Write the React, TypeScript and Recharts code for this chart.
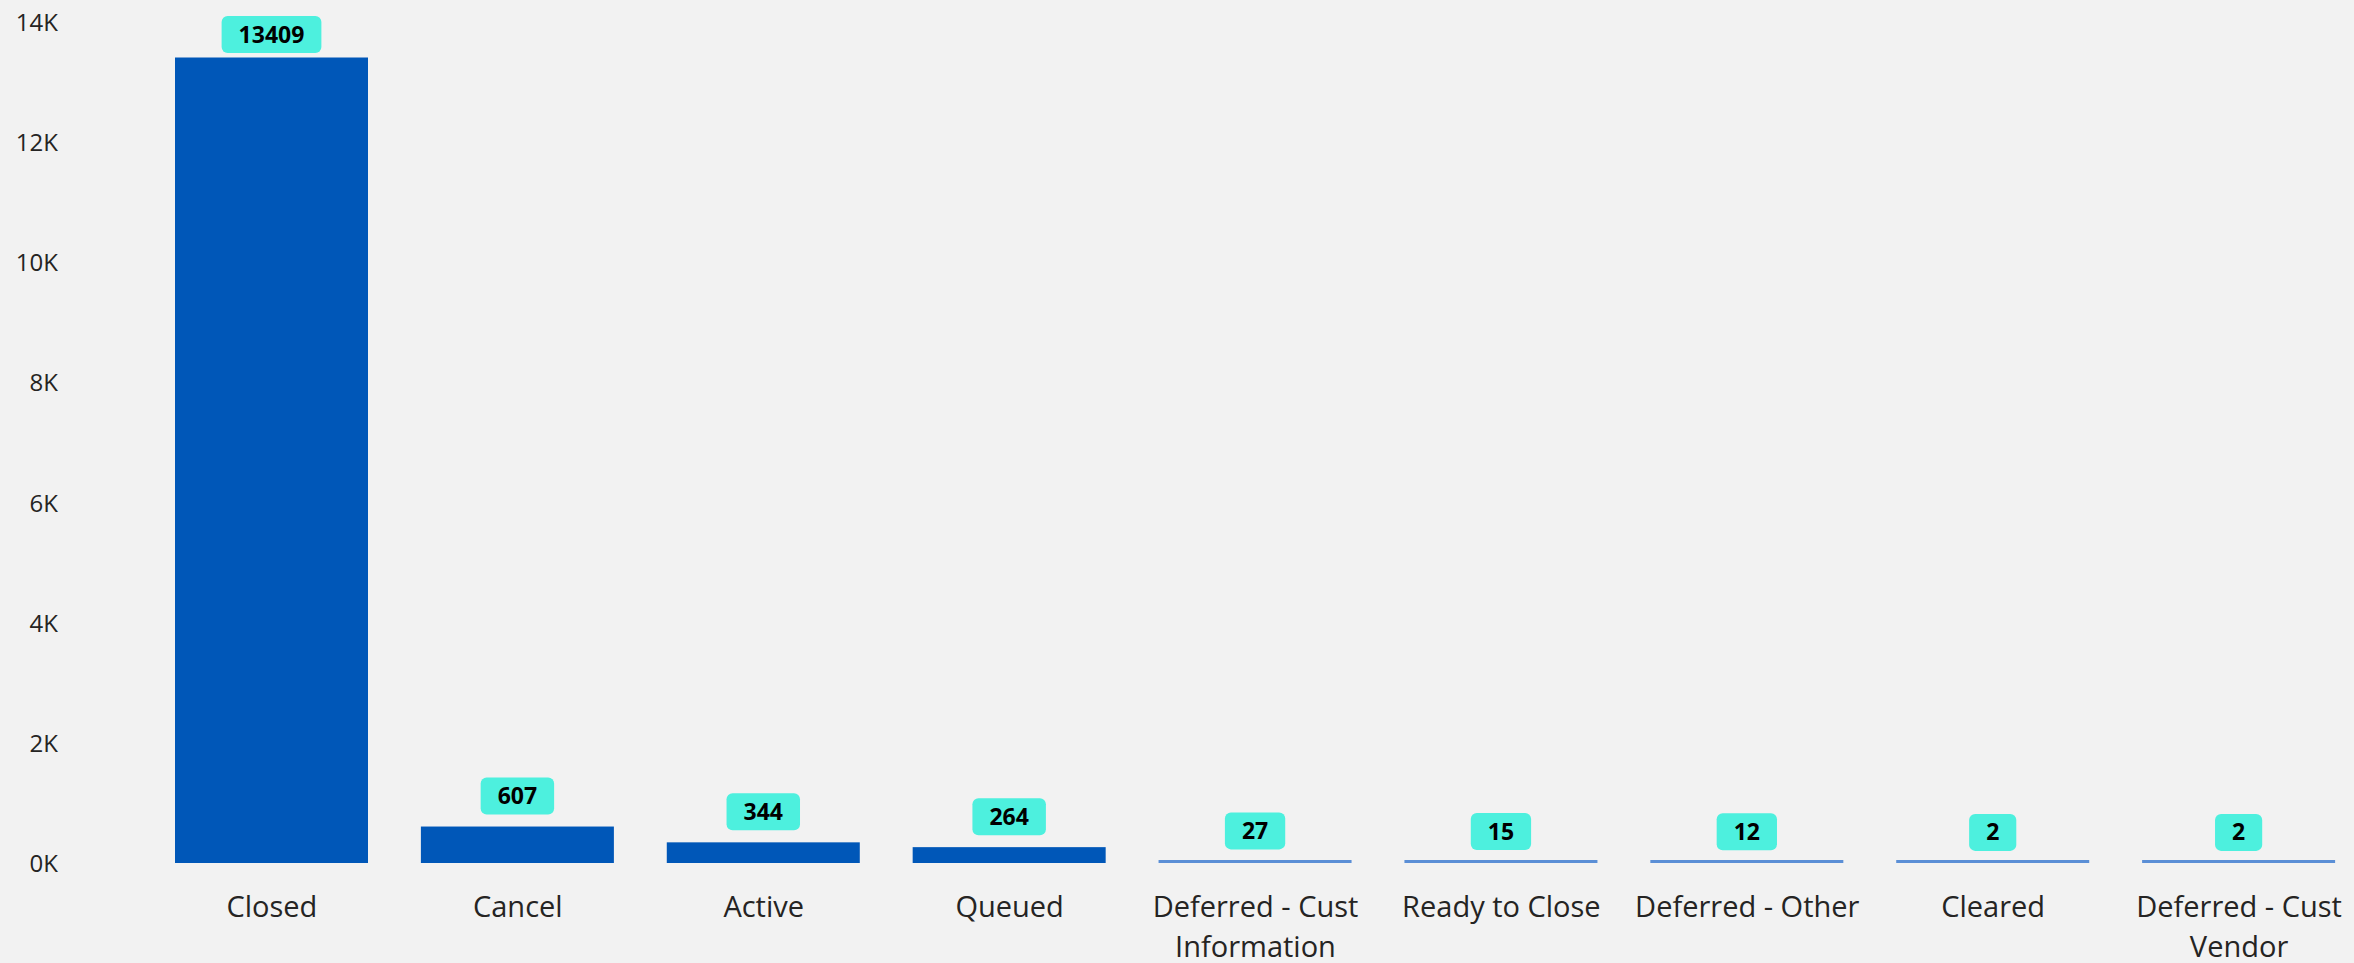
import React from 'react';
import { BarChart, Bar, XAxis, YAxis, LabelList } from 'recharts';

const categories = [
  'Closed',
  'Cancel',
  'Active',
  'Queued',
  'Deferred - Cust Information',
  'Ready to Close',
  'Deferred - Other',
  'Cleared',
  'Deferred - Cust Vendor',
];
const counts = [13409, 607, 344, 264, 27, 15, 12, 2, 2];
const yTicks = [0, 2000, 4000, 6000, 8000, 10000, 12000, 14000];

const data = categories.map((c, i) => ({ status: c, count: counts[i] }));

const FONT = '"Open Sans", "Noto Sans", sans-serif';
const TEXT = '#252423';
const BAR = '#0057b8';
const THIN = '#5b8fd6';
const LABEL_BG = '#4df0de';
const X_FONT_SIZE = 29;

let measureCtx: CanvasRenderingContext2D | null = null;
function measure(s: string): number {
  if (!measureCtx) {
    const c = document.createElement('canvas');
    measureCtx = c.getContext('2d');
  }
  if (!measureCtx) return s.length * X_FONT_SIZE * 0.55;
  measureCtx.font = `${X_FONT_SIZE}px "Open Sans"`;
  return measureCtx.measureText(s).width;
}

function wrap(label: string, maxW: number): string[] {
  const words = label.split(' ');
  const lines: string[] = [];
  let cur = '';
  for (const w of words) {
    const test = cur ? `${cur} ${w}` : w;
    if (cur && measure(test) > maxW) {
      lines.push(cur);
      cur = w;
    } else {
      cur = test;
    }
  }
  if (cur) lines.push(cur);
  return lines;
}

const YTick = (props: any) => {
  const { y, payload } = props;
  return (
    <text
      x={58}
      y={y}
      dy={9}
      textAnchor="end"
      fontSize={24}
      fill={TEXT}
      fontFamily={FONT}
    >
      {`${payload.value / 1000}K`}
    </text>
  );
};

const XTick = (props: any) => {
  const { x, y, payload } = props;
  const lines = wrap(String(payload.value), 238);
  return (
    <text
      x={x}
      y={y + 54}
      textAnchor="middle"
      fontSize={X_FONT_SIZE}
      fontFamily={FONT}
      fill={TEXT}
    >
      {lines.map((ln, i) => (
        <tspan key={i} x={x} dy={i === 0 ? 0 : 40}>
          {ln}
        </tspan>
      ))}
    </text>
  );
};

const BarShape = (props: any) => {
  const { x, y, width, height } = props;
  if (height < 3) {
    return <rect x={x} y={y + height - 3} width={width} height={3} fill={THIN} />;
  }
  return <rect x={x} y={y} width={width} height={height} fill={BAR} />;
};

const ValueLabel = (props: any) => {
  const vb = props.viewBox || {};
  const x = props.x ?? vb.x;
  const y = props.y ?? vb.y;
  const width = props.width ?? vb.width;
  const value = props.value;
  const cx = x + width / 2;
  const txt = String(value);
  const bw = txt.length * 0.572 * 23 + 34;
  const bh = 37;
  const bottom = y - 12;
  const top = Math.max(16, bottom - bh);
  return (
    <g>
      <rect x={cx - bw / 2} y={top} width={bw} height={bh} rx={6} ry={6} fill={LABEL_BG} />
      <text
        x={cx}
        y={top + bh / 2}
        dy={8}
        textAnchor="middle"
        fontWeight="bold"
        fontSize={23}
        fontFamily={FONT}
        fill="#000"
      >
        {txt}
      </text>
    </g>
  );
};

export default function App() {
  return (
    <div
      style={{
        position: 'absolute',
        left: 0,
        top: 0,
        width: 2354,
        height: 963,
        overflow: 'hidden',
        background: '#f2f2f2',
      }}
    >
      <BarChart
        width={2362}
        height={963}
        data={data}
        margin={{ top: 22, right: 0, bottom: 0, left: 0 }}
      >
        <XAxis
          dataKey="status"
          axisLine={false}
          tickLine={false}
          tickSize={0}
          tickMargin={0}
          height={100}
          interval={0}
          tick={<XTick />}
        />
        <YAxis
          width={149}
          domain={[0, 14000]}
          ticks={yTicks}
          axisLine={false}
          tickLine={false}
          tick={<YTick />}
        />
        <Bar dataKey="count" barSize={193} isAnimationActive={false} shape={<BarShape />}>
          <LabelList dataKey="count" content={<ValueLabel />} />
        </Bar>
      </BarChart>
    </div>
  );
}
